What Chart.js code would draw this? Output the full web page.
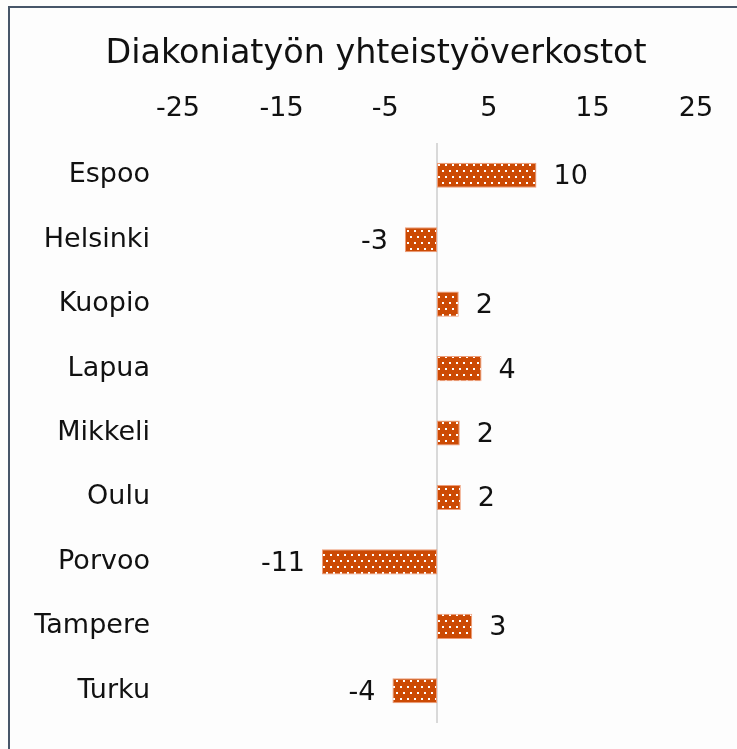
<!DOCTYPE html>
<html>
<head>
<meta charset="utf-8">
<script src="https://cdn.jsdelivr.net/npm/chart.js@4/dist/chart.umd.min.js"></script>
<style>
    html, body { margin: 0; padding: 0; background: #fdfdfd; overflow: hidden; }
    #frame {
        position: absolute; left: 8px; top: 6px; width: 800px; height: 800px;
        border-left: 2px solid #475669; border-top: 2px solid #475669;
    }
    #wrap { position: absolute; left: 0; top: 0; width: 737px; height: 749px; }
</style>
</head>
<body>
<div id="frame"></div>
<div id="wrap"><canvas id="chart" width="737" height="749"></canvas></div>
<script>
// Chart data
const chartTitle = 'Diakoniatyön yhteistyöverkostot';
const cities = ['Espoo', 'Helsinki', 'Kuopio', 'Lapua', 'Mikkeli', 'Oulu', 'Porvoo', 'Tampere', 'Turku'];
const networkValues = [9.6, -3.1, 2.1, 4.3, 2.2, 2.3, -11.1, 3.4, -4.3];
const xTicks = [-25, -15, -5, 5, 15, 25];

const fontFamily = '"DejaVu Sans", Verdana, sans-serif';

// Dotted orange fill like the original
function makeDotPattern() {
    const tile = document.createElement('canvas');
    tile.width = 7;
    tile.height = 12;
    const c = tile.getContext('2d');
    c.fillStyle = '#CC4A04';
    c.fillRect(0, 0, 7, 12);
    c.fillStyle = '#ffffff';
    c.fillRect(1, 2, 2, 2);
    c.fillRect(4, 8, 2, 2);
    return document.getElementById('chart').getContext('2d').createPattern(tile, 'repeat');
}

// Zero line and value labels
const extrasPlugin = {
    id: 'extras',
    beforeDatasetsDraw: function (chart) {
        const ctx = chart.ctx;
        const x0 = chart.scales.x.getPixelForValue(0);
        ctx.save();
        ctx.strokeStyle = '#d9d9d9';
        ctx.lineWidth = 2;
        ctx.beginPath();
        ctx.moveTo(x0, chart.chartArea.top);
        ctx.lineTo(x0, chart.chartArea.bottom);
        ctx.stroke();
        ctx.restore();
    },
    afterDatasetsDraw: function (chart) {
        const ctx = chart.ctx;
        const meta = chart.getDatasetMeta(0);
        ctx.save();
        ctx.font = '27px ' + fontFamily;
        ctx.fillStyle = '#111111';
        ctx.textBaseline = 'middle';
        meta.data.forEach((bar, i) => {
            const v = networkValues[i];
            const text = String(Math.round(v));
            if (v >= 0) {
                ctx.textAlign = 'left';
                ctx.fillText(text, bar.x + 17, bar.y + 2);
            } else {
                ctx.textAlign = 'right';
                ctx.fillText(text, bar.x - 17, bar.y + 2);
            }
        });
        ctx.restore();
    }
};

new Chart(document.getElementById('chart'), {
    type: 'bar',
    data: {
        labels: cities,
        datasets: [{
            data: networkValues,
            backgroundColor: makeDotPattern(),
            borderColor: '#EE9C78',
            borderWidth: 1,
            borderSkipped: false,
            categoryPercentage: 1,
            barPercentage: 0.39
        }]
    },
    options: {
        indexAxis: 'y',
        responsive: false,
        animation: false,
        layout: {
            padding: { left: 15, right: 0, top: 0, bottom: 26 }
        },
        plugins: {
            legend: { display: false },
            tooltip: { enabled: false },
            title: {
                display: true,
                text: chartTitle,
                color: '#111111',
                font: { family: fontFamily, size: 33.4, weight: 'normal' },
                padding: { top: 34, bottom: 17 }
            }
        },
        scales: {
            x: {
                position: 'top',
                min: -25,
                max: 25,
                afterBuildTicks: function (scale) {
                    scale.ticks = xTicks.map(v => ({ value: v }));
                },
                afterFit: function (scale) {
                    scale.height = 52;
                },
                grid: { display: false, drawTicks: false },
                border: { display: false },
                ticks: {
                    color: '#111111',
                    padding: 18,
                    maxRotation: 0,
                    font: { family: fontFamily, size: 27 }
                }
            },
            y: {
                afterFit: function (scale) {
                    scale.width = 163;
                    scale.paddingTop = 0;
                    scale.paddingBottom = 0;
                },
                grid: { display: false, drawTicks: false },
                border: { display: false },
                ticks: {
                    color: '#111111',
                    padding: 28,
                    font: { family: fontFamily, size: 27 }
                }
            },
            // empty right-hand margin, keeps the title centred like the original
            yRight: {
                axis: 'y',
                type: 'category',
                position: 'right',
                afterFit: function (scale) {
                    scale.width = 41;
                    scale.paddingTop = 0;
                    scale.paddingBottom = 0;
                },
                grid: { display: false, drawTicks: false },
                border: { display: false },
                ticks: { display: false }
            }
        }
    },
    plugins: [extrasPlugin]
});
</script>
</body>
</html>
